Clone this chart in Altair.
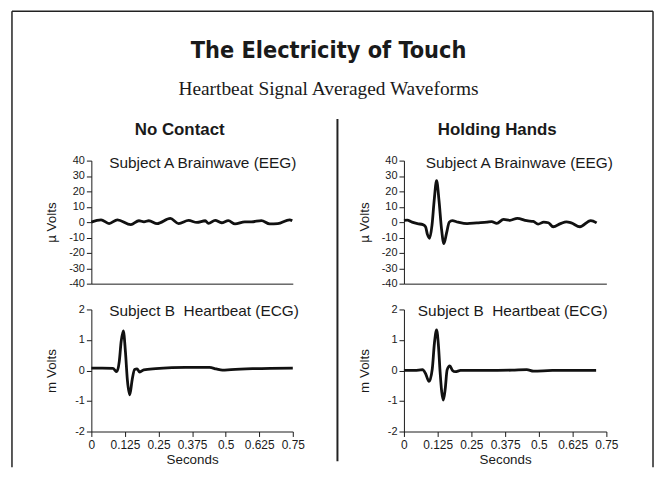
import altair as alt
import pandas as pd

# ---------------- data ----------------
x_ticks = [0, 0.125, 0.25, 0.375, 0.5, 0.625, 0.75]
eeg_ticks = [-40, -30, -20, -10, 0, 10, 20, 30, 40]
ecg_ticks = [-2, -1, 0, 1, 2]

# No Contact - Subject A EEG (micro volts)
nc_eeg_t = [0.0, 0.036, 0.066, 0.097, 0.147, 0.177, 0.196, 0.214, 0.245, 0.294, 0.325,
            0.362, 0.393, 0.424, 0.436, 0.461, 0.485, 0.51, 0.535, 0.571, 0.596, 0.633,
            0.664, 0.694, 0.738, 0.748]
nc_eeg_v = [0.0, 1.5, -0.9, 1.5, -1.6, 0.9, 0.2, 0.9, -1.0, 2.4, -0.9,
            1.1, -0.2, 0.9, -0.8, 1.2, -0.4, 1.0, -1.2, 0.2, 0.2, 1.0,
            -1.2, -1.0, 1.5, 0.9]

# No Contact - Subject B ECG (milli volts)
nc_ecg_t = [0.0, 0.04, 0.08, 0.095, 0.104, 0.111, 0.119, 0.127, 0.134, 0.143, 0.152,
            0.161, 0.17, 0.18, 0.195, 0.24, 0.3, 0.35, 0.44, 0.465, 0.488, 0.52, 0.6, 0.75]
nc_ecg_v = [0.08, 0.08, 0.07, -0.04, 0.3, 0.95, 1.3, 0.6, -0.3, -0.8, -0.3,
            0.03, 0.05, -0.05, 0.02, 0.06, 0.09, 0.1, 0.1, 0.05, 0.01, 0.03, 0.06, 0.08]

# Holding Hands - Subject A EEG (micro volts)
hh_eeg_t = [0.0, 0.012, 0.03, 0.05, 0.07, 0.08, 0.087, 0.095, 0.104, 0.112, 0.121,
            0.13, 0.139, 0.148, 0.158, 0.168, 0.179, 0.2, 0.234, 0.27, 0.308, 0.325,
            0.344, 0.369, 0.393, 0.42, 0.455, 0.479, 0.497, 0.518, 0.535, 0.553, 0.58,
            0.602, 0.62, 0.652, 0.692, 0.714]
hh_eeg_v = [1.2, 1.3, 0.0, -1.0, -1.6, -3.0, -8.0, -10.5, -2.0, 14.0, 27.0,
            14.0, -4.0, -14.0, -7.0, 0.0, 1.0, 0.0, -1.0, -0.5, 0.0, 0.3,
            -0.8, 1.8, 1.2, 2.5, 0.9, 0.5, -1.3, 0.0, -0.4, -3.0, -1.0,
            0.2, -0.5, -3.0, 1.0, -0.5]

# Holding Hands - Subject B ECG (milli volts)
hh_ecg_t = [0.0, 0.04, 0.069, 0.08, 0.093, 0.105, 0.113, 0.121, 0.128, 0.134, 0.14,
            0.146, 0.153, 0.16, 0.17, 0.18, 0.19, 0.21, 0.3, 0.4, 0.455, 0.48, 0.55, 0.712]
hh_ecg_v = [0.0, 0.0, 0.03, -0.1, -0.36, 0.05, 0.9, 1.33, 0.8, -0.05, -0.7,
            -0.97, -0.6, 0.02, 0.15, 0.0, -0.04, 0.0, 0.0, 0.01, 0.03, -0.02, 0.0, 0.0]

panel_titles = ["Subject A Brainwave (EEG)", "Subject B\u00a0 Heartbeat (ECG)"]
column_titles = ["No Contact", "Holding Hands"]
main_title = "The Electricity of Touch"
sub_title = "Heartbeat Signal Averaged Waveforms"

SANS = "Liberation Sans, Arial, Helvetica, sans-serif"
NARROW = "Liberation Sans Narrow, Arial Narrow, DejaVu Sans Condensed, sans-serif"
SERIF = "Liberation Serif, Times New Roman, serif"
INK = "#1a1a1a"
W_L, W_R = 203, 204
H_EEG, H_ECG = 124, 123


def panel(t, v, domain, yvals, ytitle, title, title_x, show_x, width, height):
    df = pd.DataFrame({"t": t, "v": v})
    if show_x:
        xaxis = alt.Axis(values=x_ticks, format=".3~f", title="Seconds", grid=False,
                         tickSize=5, labelPadding=3, titlePadding=2, labelFlush=False,
                         labelOverlap=False, labelFontSize=12, titleFontSize=13.5,
                         titleFontWeight="normal", labelFont=SANS, titleFont=SANS,
                         domainColor=INK, tickColor=INK, labelColor=INK, titleColor=INK)
    else:
        xaxis = alt.Axis(ticks=False, labels=False, title=None, grid=False, domainColor=INK)
    yaxis = alt.Axis(values=yvals, title=ytitle, grid=False, tickSize=5, labelPadding=2,
                     labelFontSize=11, titleFontSize=13.5, titleFontWeight="normal",
                     labelFont=SANS, titleFont=SANS, titleX=-40, titleBaseline="middle",
                     labelExpr="replace(datum.label, '\u2212', '-')",
                     domainColor=INK, tickColor=INK, labelColor=INK, titleColor=INK)
    line = alt.Chart(df).mark_line(color="#111111", strokeWidth=2.8,
                                   interpolate="monotone").encode(
        x=alt.X("t:Q", scale=alt.Scale(domain=[0, 0.75], nice=False, zero=False), axis=xaxis),
        y=alt.Y("v:Q", scale=alt.Scale(domain=domain, nice=False, zero=False), axis=yaxis),
    )
    lab = alt.Chart(pd.DataFrame({"s": [title]})).mark_text(
        align="left", baseline="middle", fontSize=15.5, font=SANS, color=INK
    ).encode(text="s:N", x=alt.value(title_x), y=alt.value(2))
    return alt.layer(line, lab).properties(width=width, height=height)


eeg_l = panel(nc_eeg_t, nc_eeg_v, [-40, 40], eeg_ticks, "\u00b5 Volts",
              panel_titles[0], 18, False, W_L, H_EEG)
ecg_l = panel(nc_ecg_t, nc_ecg_v, [-2, 2], ecg_ticks, "m Volts",
              panel_titles[1], 18, True, W_L, H_ECG)
eeg_r = panel(hh_eeg_t, hh_eeg_v, [-40, 40], eeg_ticks, "\u00b5 Volts",
              panel_titles[0], 22, False, W_R, H_EEG)
ecg_r = panel(hh_ecg_t, hh_ecg_v, [-2, 2], ecg_ticks, "m Volts",
              panel_titles[1], 14, True, W_R, H_ECG)

# ---- figure annotations (frame, headings, divider) attached to the first panel ----
one = pd.DataFrame({"k": [0]})
frame_left = alt.Chart(one).mark_rule(color="#222", strokeWidth=1.5).encode(
    x=alt.value(-80), y=alt.value(-150.5), y2=alt.value(309))
frame_right = alt.Chart(one).mark_rule(color="#222", strokeWidth=1.5).encode(
    x=alt.value(566), y=alt.value(-150.5), y2=alt.value(309))
frame_top = alt.Chart(one).mark_rule(color="#222", strokeWidth=1.5).encode(
    x=alt.value(-80), x2=alt.value(566), y=alt.value(-150.5))
divider = alt.Chart(one).mark_rule(color="#222", strokeWidth=2).encode(
    x=alt.value(248), y=alt.value(-42), y2=alt.value(303))
t_main = alt.Chart(pd.DataFrame({"s": [main_title]})).mark_text(
    font=NARROW, fontSize=23.5, fontWeight="bold", color=INK, baseline="middle"
).encode(text="s:N", x=alt.value(239), y=alt.value(-110))
t_sub = alt.Chart(pd.DataFrame({"s": [sub_title]})).mark_text(
    font=SERIF, fontSize=19.5, color=INK, baseline="middle"
).encode(text="s:N", x=alt.value(239), y=alt.value(-72))
t_c1 = alt.Chart(pd.DataFrame({"s": [column_titles[0]]})).mark_text(
    font=SANS, fontSize=17, fontWeight="bold", color=INK, baseline="middle"
).encode(text="s:N", x=alt.value(89), y=alt.value(-31))
t_c2 = alt.Chart(pd.DataFrame({"s": [column_titles[1]]})).mark_text(
    font=SANS, fontSize=17, fontWeight="bold", color=INK, baseline="middle"
).encode(text="s:N", x=alt.value(409), y=alt.value(-31))

eeg_l = alt.layer(*eeg_l.layer, frame_left, frame_right, frame_top, divider,
                  t_main, t_sub, t_c1, t_c2).properties(width=W_L, height=H_EEG)

chart = alt.concat(
    eeg_l, eeg_r, ecg_l, ecg_r,
    columns=2,
    spacing=alt.RowColnumber(row=26, column=112),
    bounds="flush",
).properties(
    padding={"left": 3, "top": 0, "right": 0, "bottom": 0},
    background="white",
).configure_view(stroke=None)

chart.save("out.html", embed_options={"renderer": "svg", "actions": False})
